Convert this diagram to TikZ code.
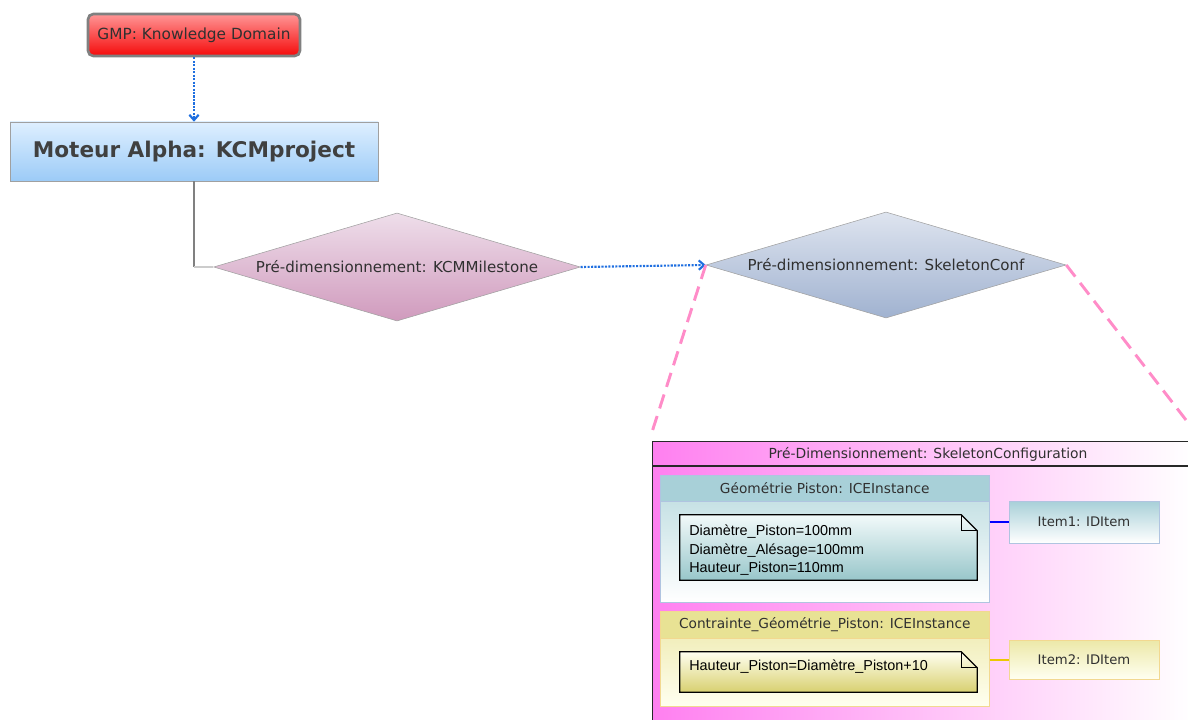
\documentclass[tikz,border=0pt]{standalone}
\usepackage{fontspec}
\setmainfont{DejaVu Sans}
\newfontfamily\notefont{Liberation Sans}
\usetikzlibrary{positioning,arrows.meta,shapes.geometric}
\definecolor{TextGray}{RGB}{48,48,48}
\definecolor{TitleGray}{RGB}{64,64,64}
\definecolor{EdgeGray}{RGB}{160,160,160}
\definecolor{PanelEdge}{RGB}{40,40,40}
\definecolor{GmpTop}{RGB}{255,150,150}
\definecolor{GmpBottom}{RGB}{245,10,10}
\definecolor{ProjTop}{RGB}{222,239,255}
\definecolor{ProjBottom}{RGB}{156,203,247}
\definecolor{MileTop}{RGB}{238,222,234}
\definecolor{MileBottom}{RGB}{208,154,189}
\definecolor{SkelTop}{RGB}{222,228,239}
\definecolor{SkelBottom}{RGB}{160,178,208}
\definecolor{ArrowBlue}{RGB}{31,111,224}
\definecolor{ZoomPink}{RGB}{255,140,200}
\definecolor{PanelPink}{RGB}{255,128,240}
\definecolor{TealHead}{RGB}{168,208,216}
\definecolor{TealBody}{RGB}{184,218,222}
\definecolor{TealEdge}{RGB}{176,196,224}
\definecolor{NoteTealTop}{RGB}{242,250,250}
\definecolor{NoteTealBottom}{RGB}{152,198,202}
\definecolor{YellowHead}{RGB}{232,226,148}
\definecolor{YellowBody}{RGB}{236,232,168}
\definecolor{YellowEdge}{RGB}{242,216,144}
\definecolor{YellowLink}{RGB}{235,200,0}
\definecolor{NoteYellowTop}{RGB}{255,255,240}
\definecolor{NoteYellowBottom}{RGB}{216,208,112}

\begin{document}
\begin{tikzpicture}[x=0.75pt,y=-0.75pt, every node/.style={font=\fontsize{10.3}{12}\selectfont, align=center, text=TextGray}]
\tikzset{
  milestone/.style={diamond, shape aspect=3.4, inner sep=0pt, draw=EdgeGray, font=\fontsize{11.3}{13}\selectfont},
  link/.style={-{Straight Barb[length=4pt,width=7pt]}, densely dotted, line width=1.6pt, ArrowBlue},
  zoomline/.style={dash pattern=on 11pt off 6pt, line width=2.2pt, ZoomPink},
  inst/.style={draw, anchor=north west, minimum width=246.75pt, inner sep=0pt},
  insthead/.style={draw, anchor=north west, minimum width=246.75pt, minimum height=19.5pt, inner sep=0pt},
  notebox/.style={minimum width=222.75pt, inner sep=0pt},
  notetext/.style={anchor=west, align=left, text width=205pt, inner sep=0pt, text=black,
    font=\notefont\fontsize{10.8}{14.2}\selectfont},
  item/.style={draw, minimum width=112.5pt, inner sep=0pt, font=\fontsize{9.9}{12}\selectfont}
}
\useasboundingbox (0,0) rectangle (1188,720);

% upper part
\node[draw=gray, line width=2pt, rounded corners=4pt, top color=GmpTop, bottom color=GmpBottom,
  minimum width=159pt, minimum height=31.5pt, font=\fontsize{11.5}{13}\selectfont] (gmp) at (194,35) {GMP: Knowledge Domain};
\node[draw=EdgeGray, top color=ProjTop, bottom color=ProjBottom, minimum width=276pt, minimum height=44.25pt,
  font=\bfseries\fontsize{16.2}{19}\selectfont, text=TitleGray] (kcm) at (194,151.5) {Moteur Alpha: KCMproject};
\node[milestone, top color=MileTop, bottom color=MileBottom, minimum width=275pt, minimum height=81pt] (mile) at (397,267)
  {Pré-dimensionnement: KCMMilestone};
\node[milestone, top color=SkelTop, bottom color=SkelBottom, minimum width=270pt, minimum height=79.5pt] (skel) at (886,265)
  {Pré-dimensionnement: SkeletonConf};

\draw[link] (gmp) -- (kcm);
\coordinate (bend) at (kcm.south |- mile.west);
\draw[gray, line width=1pt] (kcm.south) -- (bend);
\draw[gray!40, line width=1.5pt] (bend) -- (mile.west);
\draw[link] (mile.east) -- (skel.west);

% zoomed configuration
\coordinate (zoomL) at (652,432);
\coordinate (zoomR) at (1186,420);
\draw[zoomline] (skel.west) -- (zoomL);
\draw[zoomline] (skel.east) -- (zoomR);

\node[draw=PanelEdge, line width=0.9pt, left color=PanelPink, right color=white,
  minimum width=405pt, minimum height=215pt, anchor=north west, inner sep=0pt] (conf) at (652,441) {};
\draw[line width=0.9pt, PanelEdge] (652,466) -- (1192,466);
\node[font=\fontsize{10.4}{12}\selectfont] (confhead) at (928,454) {Pré-Dimensionnement: SkeletonConfiguration};

% first instance
\node[inst, draw=TealEdge, top color=TealBody, bottom color=white, minimum height=95.25pt] (geo) at (660,475) {};
\node[insthead, draw=TealEdge, fill=TealHead] (geohead) at (660,475) {Géométrie Piston: ICEInstance};
\node[notebox, minimum height=48.75pt] (n1) at (828.5,547.5) {};
\draw[line width=0.9pt, top color=NoteTealTop, bottom color=NoteTealBottom]
  (n1.south west) -- (n1.north west) -- ([xshift=-12pt]n1.north east) -- ([yshift=-12pt]n1.north east) -- (n1.south east) -- cycle;
\draw[line width=0.6pt] ([xshift=-12pt]n1.north east) |- ([yshift=-12pt]n1.north east);
\node[notetext] (n1txt) at ([xshift=7pt,yshift=-2pt]n1.west) {Diamètre\_Piston=100mm\\Diamètre\_Alésage=100mm\\Hauteur\_Piston=110mm};
\node[item, draw=TealEdge, top color=TealHead, bottom color=white, minimum height=31.5pt] (item1) at (1084,522) {Item1: IDItem};
\draw[blue, line width=1pt] (item1.west -| geo.east) -- (item1.west);

% second instance
\node[inst, draw=YellowEdge, top color=YellowBody, bottom color=NoteYellowTop, minimum height=71.25pt] (cons) at (660,611) {};
\node[insthead, draw=YellowEdge, fill=YellowHead, minimum height=20.25pt] (conshead) at (660,611) {Contrainte\_Géométrie\_Piston: ICEInstance};
\node[notebox, minimum height=30pt] (n2) at (828.5,672) {};
\draw[line width=0.9pt, top color=NoteYellowTop, bottom color=NoteYellowBottom]
  (n2.south west) -- (n2.north west) -- ([xshift=-12pt]n2.north east) -- ([yshift=-12pt]n2.north east) -- (n2.south east) -- cycle;
\draw[line width=0.6pt] ([xshift=-12pt]n2.north east) |- ([yshift=-12pt]n2.north east);
\node[notetext] (n2txt) at ([xshift=7pt,yshift=4pt]n2.west) {Hauteur\_Piston=Diamètre\_Piston+10};
\node[item, draw=YellowEdge, top color=YellowBody, bottom color=NoteYellowTop, minimum height=29.25pt] (item2) at (1084,659.5) {Item2: IDItem};
\draw[YellowLink, line width=1.5pt] (item2.west -| cons.east) -- (item2.west);
\end{tikzpicture}
\end{document}
